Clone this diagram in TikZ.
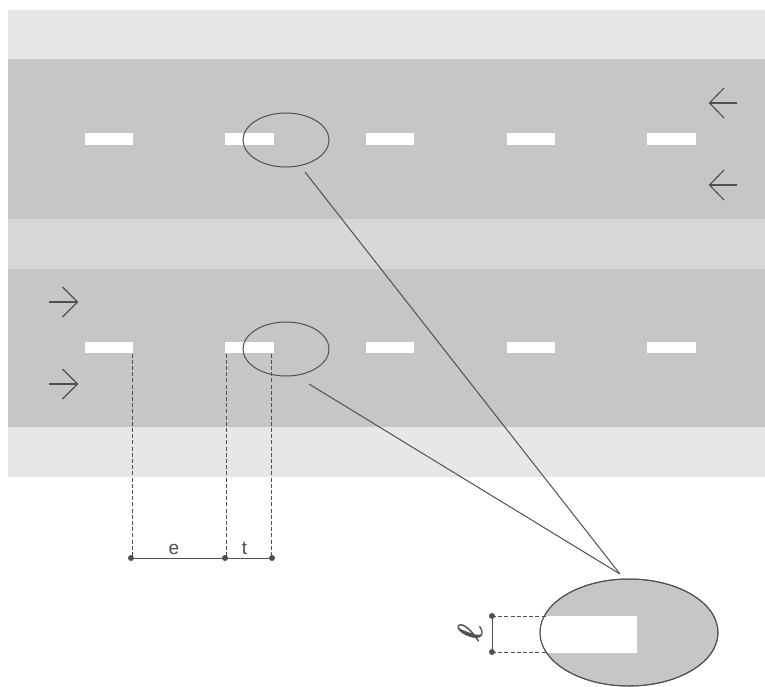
\documentclass[tikz,border=0pt]{standalone}
\usepackage{amsmath}
\usepackage{fontspec}
\setsansfont{Liberation Sans}
\definecolor{road}{HTML}{C6C6C6}
\definecolor{shoulder}{HTML}{E7E7E7}
\definecolor{median}{HTML}{D8D8D8}
\definecolor{ink}{HTML}{505050}
\usetikzlibrary{shapes.geometric}
\tikzset{
  dashbar/.style={fill=white,draw=none,minimum width=48.5pt,minimum height=11.5pt,inner sep=0pt,outer sep=0pt},
  lens/.style={ellipse,draw=ink,line width=1pt,inner sep=0pt,minimum width=86pt,minimum height=54pt},
  guide/.style={draw=ink,dash pattern=on 4pt off 2.2pt,line width=.9pt},
  solidline/.style={draw=ink,line width=1pt},
  tick/.style={circle,fill=ink,draw=none,minimum size=6pt,inner sep=0pt},
  dirmark/.style={draw=ink,line width=1.15pt},
  lab/.style={font=\sffamily\fontsize{19}{21}\selectfont,text=ink,inner sep=0pt}
}
\begin{document}
\begin{tikzpicture}[x=1pt,y=-1pt]
\useasboundingbox (0,0) rectangle (765,686);
\fill[white] (0,0) rectangle (765,686);
% bands
\fill[shoulder] (8,10) rectangle (765,59);
\fill[road] (8,59) rectangle (765,219);
\fill[median] (8,219) rectangle (765,269);
\fill[road] (8,269) rectangle (765,427);
\fill[shoulder] (8,427) rectangle (765,477);
% lane bars
\foreach \n/\cx in {1/109,2/249.3,3/390,4/531,5/671.5}{
  \node[dashbar] (u\n) at (\cx,139) {};
  \node[dashbar] (l\n) at (\cx,347.5) {};
}
% lens ellipses
\node[lens] (ua) at (286,140) {};
\node[lens] (la) at (286,349) {};
% magnified view
\node[ellipse,draw=ink,fill=road,line width=1pt,inner sep=0pt,minimum width=178pt,minimum height=107pt] (big) at (629,632.5) {};
\begin{scope}
  \clip (629,632.5) ellipse [x radius=88.6, y radius=53];
  \fill[white] (530,616) rectangle (637,652.5);
\end{scope}
\node[ellipse,draw=ink,line width=1pt,inner sep=0pt,minimum width=178pt,minimum height=107pt] at (629,632.5) {};
% zoom lines
\coordinate (apex) at (620,574);
\coordinate (s1) at (305,172);
\coordinate (s2) at (309,384);
\draw[solidline] (s1) -- (apex);
\draw[solidline] (s2) -- (apex);
% dimension e, t
\node[tick] (d1) at (131,558) {};
\node[tick] (d2) at (225,558) {};
\node[tick] (d3) at (272,558) {};
\coordinate (g1) at (132,353.5);
\coordinate (g2) at (226,353.5);
\coordinate (g3) at (271,353.5);
\draw[guide] (g1) -- (g1 |- d1);
\draw[guide] (g2) -- (g2 |- d2);
\draw[guide] (g3) -- (g3 |- d3);
\draw[solidline] (d1) -- (d2);
\draw[solidline] (d2) -- (d3);
\node[lab,anchor=base] (e) at (174,554) {e};
\node[lab,anchor=base] (t) at (244.5,554) {t};
% dimension l
\node[tick] (m1) at (492,616) {};
\node[tick] (m2) at (492,652) {};
\coordinate (n1) at (546,616);
\coordinate (n2) at (546,652);
\draw[solidline] (m1) -- (m2);
\draw[guide] (m1.center) -- (n1);
\draw[guide] (m2.center) -- (n2);
\node[text=ink,inner sep=0pt,rotate=85,scale=3.6,font=\mathversion{bold}] (ell) at (470,633) {$\ell$};
% direction marks
\foreach \y in {103,185}{
  \draw[dirmark] (737,\y) -- (710,\y);
  \draw[dirmark] (724,\y-15) -- (709.5,\y) -- (724,\y+15);
}
\foreach \y in {302,384}{
  \draw[dirmark] (49,\y) -- (77,\y);
  \draw[dirmark] (62.5,\y-15) -- (77.5,\y) -- (62.5,\y+15);
}
\end{tikzpicture}
\end{document}
